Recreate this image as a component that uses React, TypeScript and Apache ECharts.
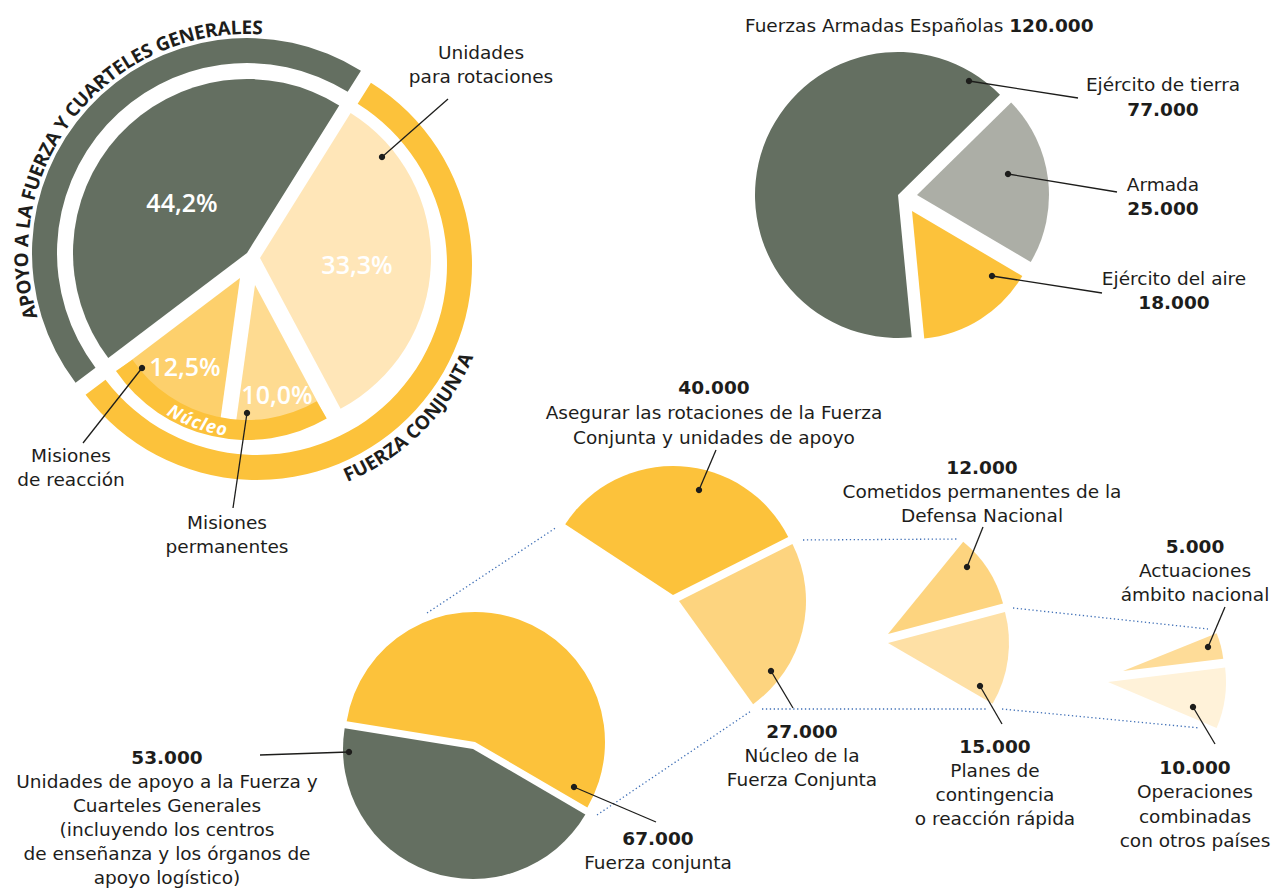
import React, { useEffect, useRef } from 'react';
import * as echarts from 'echarts';

const FONT = '"DejaVu Sans", "Open Sans", sans-serif';
const TITLE_FONT = '"Open Sans", "Noto Sans", sans-serif';
const INK = '#1d1d1b';
const DARK = '#646f61';
const YELLOW = '#fcc23b';
const LIGHT33 = '#ffe6b8';
const C125 = '#fdd06c';
const C10 = '#fedb91';
const GRAY = '#acaea6';
const C27 = '#fdd47f';
const C12 = '#fdd47f';
const C15 = '#fee0a5';
const C5 = '#fedc98';
const C10K = '#fff2d9';
const DOT_BLUE = '#3f6fb6';
const HIDDEN = 'rgba(0,0,0,0)';
const BODY = 18.5;

// ---- Data ----
const ringNames = ['Apoyo a la Fuerza y Cuarteles Generales', 'Fuerza Conjunta'];
const ringShares = [44.2, 55.8];
const ringTitles = ['APOYO A LA FUERZA Y CUARTELES GENERALES', 'FUERZA CONJUNTA'];

const shareNames = ['Apoyo a la Fuerza y Cuarteles Generales', 'Misiones de reacción', 'Misiones permanentes', 'Unidades para rotaciones'];
const shareValues = [44.2, 12.5, 10.0, 33.3];
const nucleoLabel = 'Núcleo';

const armyTitle = 'Fuerzas Armadas Españolas';
const armyTotal = 120000;
const armyNames = ['Ejército de tierra', 'Ejército del aire', 'Armada'];
const armyValues = [77000, 18000, 25000];

const level1Names = ['Fuerza conjunta', 'Unidades de apoyo a la Fuerza y Cuarteles Generales'];
const level1Values = [67000, 53000];
const level2Names = ['Asegurar las rotaciones de la Fuerza Conjunta y unidades de apoyo', 'Núcleo de la Fuerza Conjunta'];
const level2Values = [40000, 27000];
const level3Names = ['Cometidos permanentes de la Defensa Nacional', 'Planes de contingencia o reacción rápida'];
const level3Values = [12000, 15000];
const level4Names = ['Actuaciones ámbito nacional', 'Operaciones combinadas con otros países'];
const level4Values = [5000, 10000];

const level1Lines = [['Fuerza conjunta'], ['Unidades de apoyo a la Fuerza y', 'Cuarteles Generales', '(incluyendo los centros', 'de enseñanza y los órganos de', 'apoyo logístico)']];
const level2Lines = [['Asegurar las rotaciones de la Fuerza', 'Conjunta y unidades de apoyo'], ['Núcleo de la', 'Fuerza Conjunta']];
const level3Lines = [['Cometidos permanentes de la', 'Defensa Nacional'], ['Planes de', 'contingencia', 'o reacción rápida']];
const level4Lines = [['Actuaciones', 'ámbito nacional'], ['Operaciones', 'combinadas', 'con otros países']];
const shareLines = [[], ['Misiones', 'de reacción'], ['Misiones', 'permanentes'], ['Unidades', 'para rotaciones']];

const fmtNum = (v: number) => String(v).replace(/\B(?=(\d{3})+(?!\d))/g, '.');
const fmtPct = (v: number) => v.toFixed(1).replace('.', ',') + '%';
const sum = (a: number[]) => a.reduce((s, v) => s + v, 0);
const withRest = (vals: number[]) => [...vals, armyTotal - sum(vals)];

let mctx: CanvasRenderingContext2D | null = null;
function measure(t: string, font: string) {
  if (!mctx) mctx = document.createElement('canvas').getContext('2d');
  mctx!.font = font;
  return mctx!.measureText(t).width;
}

function pie(id: string, names: string[], values: number[], vis: number, color: string, center: number[], radius: any, startAngle: number, clockwise: boolean, z = 2) {
  return {
    type: 'pie', id, center, radius, startAngle, clockwise, silent: true, z,
    animation: false, avoidLabelOverlap: false, minAngle: 0,
    label: { show: false }, labelLine: { show: false }, emphasis: { disabled: true },
    itemStyle: { borderWidth: 0 },
    data: values.map((v, i) => ({ value: v, name: names[i] || 'resto', itemStyle: { color: i === vis ? color : HIDDEN } })),
  };
}

function txt(x: number, y: number, text: string, o: any = {}) {
  return {
    type: 'text', x, y, z: 100, silent: true,
    style: {
      text, fill: o.color || INK,
      fontSize: o.size || BODY, fontWeight: o.weight || 'normal', fontStyle: o.style || 'normal', fontFamily: o.family || FONT,
      align: o.align || 'center', textAlign: o.align || 'center', verticalAlign: 'middle', textVerticalAlign: 'middle',
    },
  };
}

// multi-line label as one rich text: lines tagged b (bold) or n (normal)
function richBlock(x: number, y: number, parts: string[], gap: number) {
  const base = { fontSize: BODY, fontFamily: FONT, fill: INK, color: INK, lineHeight: gap };
  return {
    type: 'text', x, y: y - gap / 2, z: 100, silent: true,
    style: {
      text: parts.join('\n'), fill: INK, fontSize: BODY, fontFamily: FONT, lineHeight: gap,
      align: 'center', textAlign: 'center', verticalAlign: 'top', textVerticalAlign: 'top',
      rich: { b: { ...base, fontWeight: 'bold' }, n: { ...base, fontWeight: 'normal' } },
    },
  };
}

function block(x: number, y: number, value: string | null, lines: string[], gap = 24) {
  const parts: string[] = [];
  if (value) parts.push(`{b|${value}}`);
  lines.forEach((l) => parts.push(`{n|${l}}`));
  return [richBlock(x, y, parts, gap)];
}

function leader(x1: number, y1: number, x2: number, y2: number) {
  return [
    { type: 'line', z: 100, silent: true, shape: { x1, y1, x2, y2 }, style: { stroke: INK, lineWidth: 1.3 } },
    { type: 'circle', z: 101, silent: true, shape: { cx: x2, cy: y2, r: 3.2 }, style: { fill: INK } },
  ];
}

function dotted(x1: number, y1: number, x2: number, y2: number) {
  return { type: 'line', z: 90, silent: true, shape: { x1, y1, x2, y2 }, style: { stroke: DOT_BLUE, lineWidth: 1.3, lineDash: [1.3, 2.6] } };
}

function arcText(text: string, o: any) {
  const size = o.size, weight = o.weight || 'bold', fstyle = o.style || 'normal';
  const font = `${fstyle} ${weight} ${size}px ${TITLE_FONT}`;
  const chars = Array.from(text);
  const ws = chars.map((c) => measure(c, font));
  const W = sum(ws);
  const n = chars.length;
  let sp = o.spacing || 0;
  if (o.span) {
    const L = (o.span * Math.PI) / 180 * o.r;
    sp = n > 1 ? (L - W) / (n - 1) : 0;
    sp = Math.max(-2, Math.min(3, sp));
  }
  const total = W + sp * (n - 1);
  const mid = (o.mid * Math.PI) / 180;
  let cum = 0;
  return chars.map((c, i) => {
    const s = cum + ws[i] / 2 - total / 2;
    cum += ws[i] + sp;
    const phi = o.dir === 'cw' ? mid - s / o.r : mid + s / o.r;
    return {
      type: 'text', z: 120, silent: true,
      x: o.cx + o.r * Math.cos(phi), y: o.cy - o.r * Math.sin(phi),
      rotation: o.dir === 'cw' ? phi - Math.PI / 2 : phi + Math.PI / 2,
      style: {
        text: c, fill: o.color || INK, fontSize: size, fontWeight: weight, fontStyle: fstyle, fontFamily: TITLE_FONT,
        align: 'center', textAlign: 'center', verticalAlign: 'middle', textVerticalAlign: 'middle',
      },
    };
  });
}

function buildOption() {
  const series: any[] = [];
  // Chart 1: outer rings
  series.push(pie('ringApoyo', ringNames, ringShares, 0, DARK, [247, 253], [190, 215], 58, false));
  series.push(pie('ringFuerza', ringNames, ringShares, 1, YELLOW, [257, 265], [190, 215], 58, false));
  // Chart 1: exploded inner slices
  series.push(pie('sApoyo', shareNames, shareValues, 0, DARK, [247, 253], 174, 58, false));
  series.push(pie('sReaccion', shareNames, shareValues, 1, C125, [240, 278], 150, 58, false));
  series.push(pie('sPermanentes', shareNames, shareValues, 2, C10, [255, 285], 150, 58, false));
  series.push(pie('sRotaciones', shareNames, shareValues, 3, LIGHT33, [260, 258], 171, 58, false));
  // Núcleo band spanning the two core slices
  series.push({
    type: 'pie', id: 'nucleoBand', center: [247, 281], radius: [139, 159], startAngle: 300.1, endAngle: 214.5, clockwise: true,
    silent: true, z: 3, label: { show: false }, labelLine: { show: false }, emphasis: { disabled: true },
    itemStyle: { color: YELLOW, borderWidth: 0 },
    data: [{ value: shareValues[1] + shareValues[2], name: nucleoLabel }],
  });

  // Chart 2
  series.push(pie('aTierra', armyNames, armyValues, 0, DARK, [898, 195], 143, 44.5, false));
  series.push(pie('aAire', armyNames, armyValues, 1, YELLOW, [912, 211], 128, 44.5, false));
  series.push(pie('aArmada', armyNames, armyValues, 2, GRAY, [917, 195], 132, 44.5, false));

  // Chart 3 breakdown
  series.push(pie('l1a', level1Names, level1Values, 0, YELLOW, [475, 742], 130, 170.8, true));
  series.push(pie('l1b', level1Names, level1Values, 1, DARK, [473, 749], 130, 170.8, true));
  series.push(pie('l2a', level2Names, withRest(level2Values), 0, YELLOW, [673, 595], 129, 146.7, true));
  series.push(pie('l2b', level2Names, withRest(level2Values), 1, C27, [679, 601], 127, 146.7, true));
  series.push(pie('l3a', level3Names, withRest(level3Values), 0, C12, [888, 634], 119, 50.8, true));
  series.push(pie('l3b', level3Names, withRest(level3Values), 1, C15, [888, 643], 121, 50.8, true));
  series.push(pie('l4a', level4Names, withRest(level4Values), 0, C5, [1123, 671], 101, 22, true));
  series.push(pie('l4b', level4Names, withRest(level4Values), 1, C10K, [1108, 682], 118, 22, true));

  const g: any[] = [];
  // curved titles
  g.push(...arcText(ringTitles[0], { cx: 247, cy: 253, r: 226, mid: 141.5, span: 111, dir: 'cw', size: 19 }));
  g.push(...arcText(ringTitles[1], { cx: 257, cy: 265, r: 228, mid: -45.2, span: 44.5, dir: 'ccw', size: 19 }));
  g.push(...arcText(nucleoLabel, { cx: 247, cy: 281, r: 149, mid: 250.5, dir: 'ccw', size: 18, style: 'italic', color: '#ffffff', spacing: 0.5 }));

  // percentages
  const pctPos = [[182, 202], [185, 366], [277, 394], [357, 264]];
  shareValues.forEach((v, i) => g.push(txt(pctPos[i][0], pctPos[i][1], fmtPct(v), { color: '#ffffff', size: 25, weight: 600, family: TITLE_FONT })));

  // chart 1 labels
  g.push(...block(481, 52, null, shareLines[3]));
  g.push(...leader(448, 99, 382, 157));
  g.push(...block(71, 455, null, shareLines[1]));
  g.push(...leader(83, 443, 142, 368));
  g.push(...block(227, 522, null, shareLines[2], 24));
  g.push(...leader(233, 508, 247, 413));

  // chart 2 title
  const tFont = `normal normal ${BODY}px ${FONT}`;
  const tw = measure(armyTitle + ' ', tFont);
  g.push(txt(745, 25, armyTitle + ' ', { align: 'left' }));
  g.push(txt(745 + tw, 25, fmtNum(armyTotal), { align: 'left', weight: 'bold' }));
  // chart 2 labels (name above bold value)
  const armyLabelPos = [[1163, 84.5], [1174, 278], [1163, 184]];
  const armyLeaders = [[1078, 98, 969, 81], [1102, 293, 992, 276], [1117, 192, 1008, 174]];
  armyNames.forEach((nm, i) => {
    const [x, y] = armyLabelPos[i];
    g.push(richBlock(x, y, [`{n|${nm}}`, `{b|${fmtNum(armyValues[i])}}`], 24.5));
    const [a, b, c, d] = armyLeaders[i];
    g.push(...leader(a, b, c, d));
  });

  // chart 3 labels
  g.push(...block(714, 387, fmtNum(level2Values[0]), level2Lines[0], 25));
  g.push(...leader(716, 450, 699, 490));
  g.push(...block(802, 731, fmtNum(level2Values[1]), level2Lines[1]));
  g.push(...leader(793, 708, 771, 671));
  g.push(...block(658, 838, fmtNum(level1Values[0]), level1Lines[0]));
  g.push(...leader(656, 822, 574, 787));
  g.push(...block(167, 757, fmtNum(level1Values[1]), level1Lines[1], 24));
  g.push(...leader(260, 755, 349, 752));
  g.push(...block(982, 467, fmtNum(level3Values[0]), level3Lines[0], 24));
  g.push(...leader(983, 527, 967, 567));
  g.push(...block(995, 746, fmtNum(level3Values[1]), level3Lines[1], 24));
  g.push(...leader(1002, 724, 980, 686));
  g.push(...block(1195, 546, fmtNum(level4Values[0]), level4Lines[0], 24));
  g.push(...leader(1225, 607, 1208, 647));
  g.push(...block(1195, 767, fmtNum(level4Values[1]), level4Lines[1], 24.5));
  g.push(...leader(1215, 744, 1193, 707));

  // dotted connectors
  g.push(dotted(427, 613, 557, 527));
  g.push(dotted(597, 815, 751, 711));
  g.push(dotted(803, 540, 957, 539));
  g.push(dotted(762, 709, 987, 709));
  g.push(dotted(1013, 608, 1208, 629));
  g.push(dotted(1002, 709, 1200, 728));

  return {
    animation: false,
    backgroundColor: '#ffffff',
    series,
    graphic: { elements: g },
  };
}

export default function App() {
  const ref = useRef<HTMLDivElement>(null);
  useEffect(() => {
    document.body.style.margin = '0';
    const chart = echarts.init(ref.current!, null, { renderer: 'svg' });
    chart.setOption(buildOption());
    return () => chart.dispose();
  }, []);
  return <div ref={ref} style={{ width: 1272, height: 888, position: 'absolute', left: 0, top: 0 }} />;
}
